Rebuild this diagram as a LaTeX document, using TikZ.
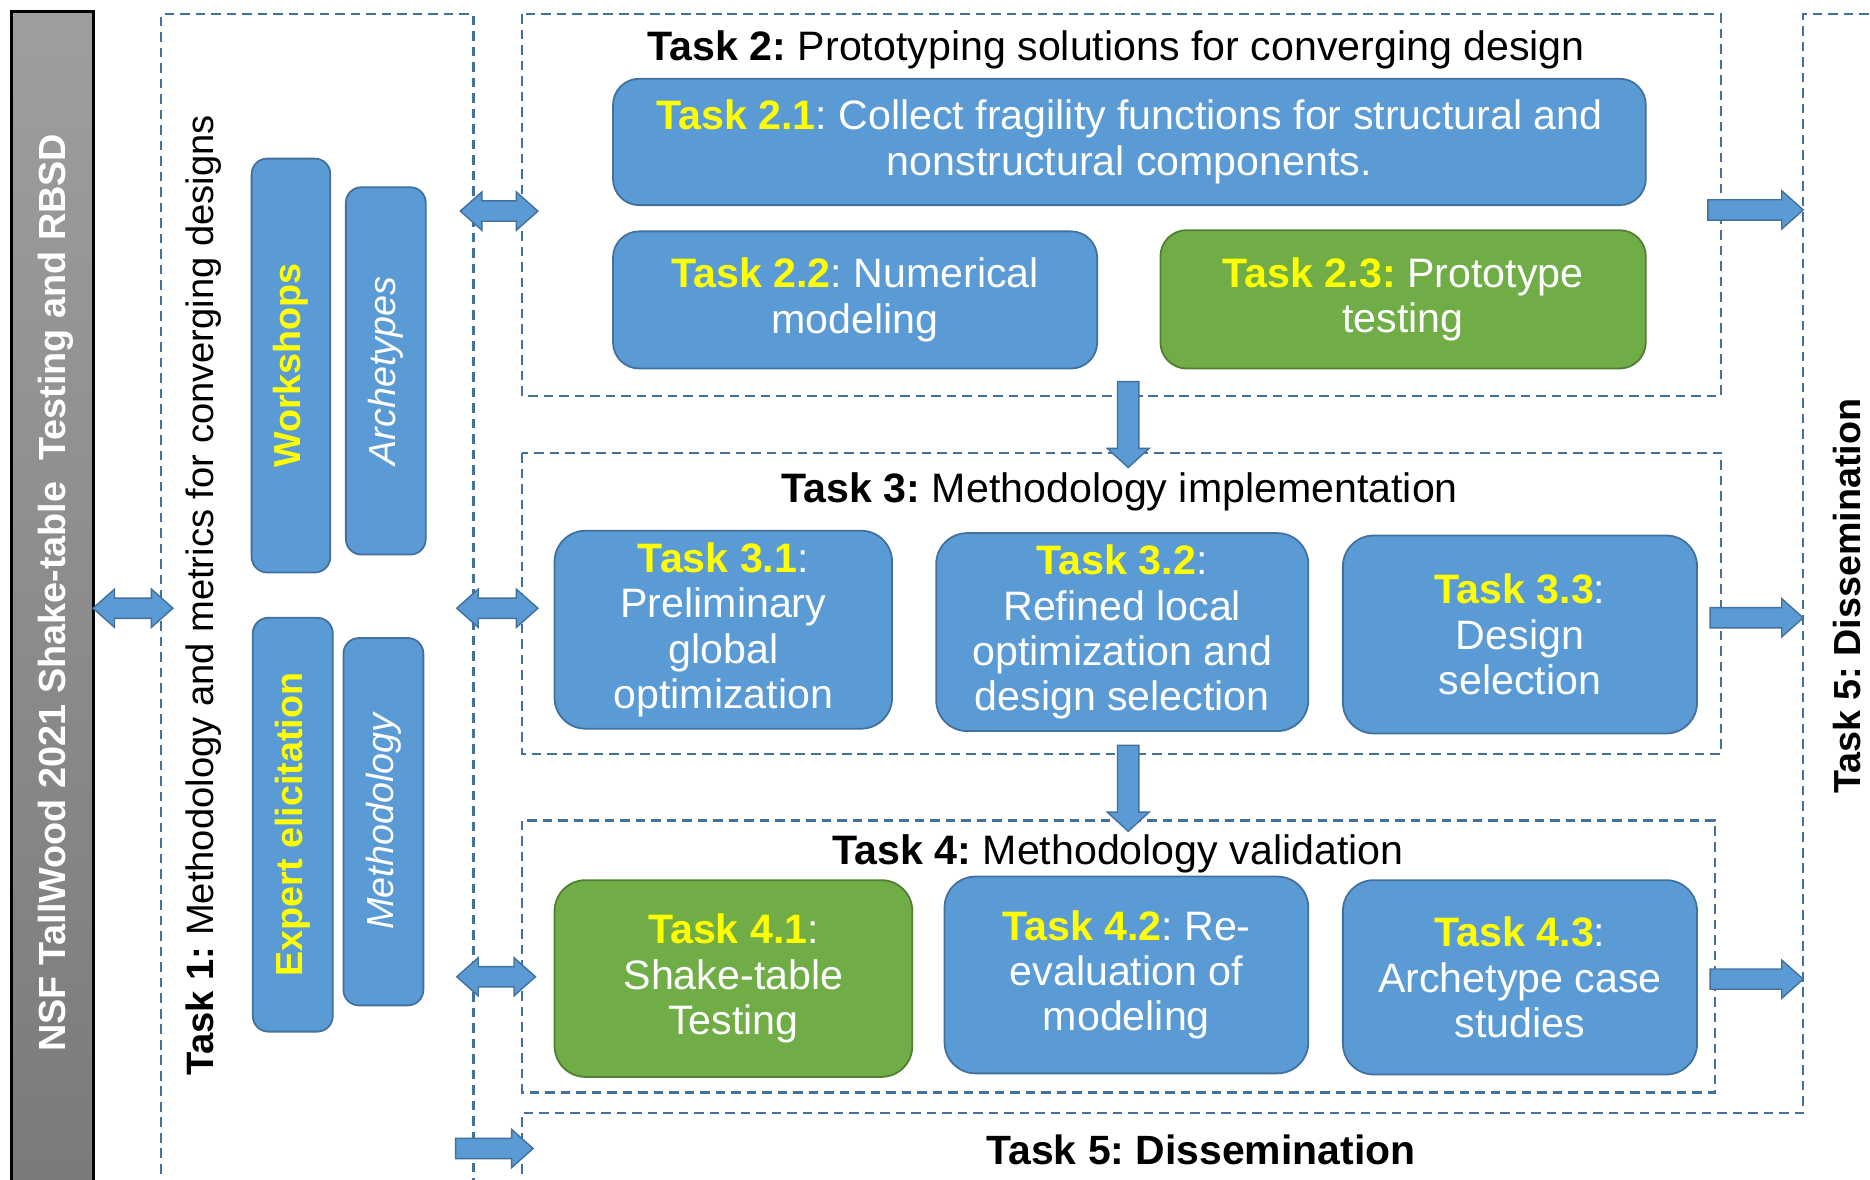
\documentclass[tikz,border=0pt]{standalone}
\usepackage{fontspec}
\setmainfont{Liberation Sans}
\usetikzlibrary{calc}
\frenchspacing
\definecolor{boxblue}{RGB}{91,155,213}
\definecolor{boxblueB}{RGB}{65,113,156}
\definecolor{boxgreen}{RGB}{112,173,71}
\definecolor{boxgreenB}{RGB}{80,126,50}
\definecolor{dashc}{RGB}{65,113,156}
\definecolor{ylw}{RGB}{255,255,0}
\definecolor{graytop}{RGB}{158,158,158}
\definecolor{graybot}{RGB}{122,122,122}
\newcommand\yl[1]{\textcolor{ylw}{\textbf{#1}}}
\newcommand\blkR[2]{\filldraw[barrow] ($(#1)+(0,-8.5)$) -- ($(#2)+(-18,-8.5)$) -- ($(#2)+(-18,-16)$) -- (#2) -- ($(#2)+(-18,16)$) -- ($(#2)+(-18,8.5)$) -- ($(#1)+(0,8.5)$) -- cycle;}
\newcommand\blkLR[2]{\filldraw[barrow] (#1) -- ($(#1)+(18,-16)$) -- ($(#1)+(18,-8.5)$) -- ($(#2)+(-18,-8.5)$) -- ($(#2)+(-18,-16)$) -- (#2) -- ($(#2)+(-18,16)$) -- ($(#2)+(-18,8.5)$) -- ($(#1)+(18,8.5)$) -- ($(#1)+(18,16)$) -- cycle;}
\newcommand\blkD[2]{\filldraw[barrow] ($(#1)+(-9,0)$) -- ($(#2)+(-9,-16)$) -- ($(#2)+(-17.5,-16)$) -- (#2) -- ($(#2)+(17.5,-16)$) -- ($(#2)+(9,-16)$) -- ($(#1)+(9,0)$) -- cycle;}
\tikzset{
  bluebox/.style={draw=boxblueB, fill=boxblue, line width=1.5pt, rounded corners=22pt, text=white, align=center, inner sep=0pt, font=\fontsize{34.5}{38}\selectfont},
  greenbox/.style={bluebox, draw=boxgreenB, fill=boxgreen},
  sidebox/.style={draw=boxblueB, fill=boxblue, line width=1.5pt, rounded corners=13pt, inner sep=0pt, text=white, font=\fontsize{31.6}{36}\selectfont},
  dashbox/.style={draw=dashc, line width=1.8pt, dash pattern=on 8pt off 5pt},
  barrow/.style={fill=boxblue, draw=boxblueB, line width=1.2pt, line join=miter},
  title/.style={font=\fontsize{34.5}{40}\selectfont, inner sep=0pt},
  vtitle/.style={rotate=90, inner sep=0pt, font=\fontsize{32}{36}\selectfont},
}
\begin{document}
\begin{tikzpicture}[x=1pt,y=-1pt]
\useasboundingbox (0,0) rectangle (1568,989);
\clip (0,0) rectangle (1568,989);
\fill[white] (0,0) rectangle (1568,989);

% grey side bar
\draw[line width=2.5pt, top color=graytop, bottom color=graybot] (10,10) rectangle (78,1010);
\node[vtitle, text=white, font=\bfseries\fontsize{31.7}{36}\selectfont] (nsf) at (47,497) {NSF TallWood 2021 Shake-table\ \ Testing and RBSD};

% dashed containers
\draw[dashbox] (135,1010) -- (135,12) -- (397,12) -- (397,1010);
\draw[dashbox] (438,12) rectangle (1443,332);
\draw[dashbox] (438,380) rectangle (1443,632);
\draw[dashbox] (438,688) rectangle (1438,916);
\draw[dashbox] (438,1010) -- (438,933) -- (1512,933) -- (1512,12) -- (1590,12);

% titles
\node[vtitle] (t1title) at (171,499) {\textbf{Task 1:} Methodology and metrics for converging designs};
\node[title] (t2title) at (936,42) {\textbf{Task 2:} Prototyping solutions for converging design};
\node[title] (t3title) at (939,412) {\textbf{Task 3:} Methodology implementation};
\node[title] (t4title) at (937.5,716) {\textbf{Task 4:} Methodology validation};
\node[title, font=\bfseries\fontsize{34.3}{40}\selectfont] (t5title) at (1007,964) {Task 5: Dissemination};
\node[vtitle, font=\bfseries\fontsize{31.6}{36}\selectfont] (t5vtitle) at (1549,500) {Task 5: Dissemination};

% Task 1 side boxes
\node[sidebox, minimum width=66pt, minimum height=347pt] (ws) at (244,306.5) {\rotatebox{90}{\textcolor{ylw}{\bfseries Workshops}}};
\node[sidebox, minimum width=67pt, minimum height=308pt] (arch) at (323.5,311) {\rotatebox{90}{\itshape Archetypes}};
\node[sidebox, minimum width=67pt, minimum height=347pt] (expert) at (245.5,691.5) {\rotatebox{90}{\textcolor{ylw}{\bfseries Expert elicitation}}};
\node[sidebox, minimum width=67pt, minimum height=308pt] (meth) at (321.5,689) {\rotatebox{90}{\itshape Methodology}};

% Task 2 boxes
\node[bluebox, minimum width=866pt, minimum height=106pt] (t21) at (947,119) {\yl{Task 2.1}: Collect fragility functions for structural and\\nonstructural components.};
\node[bluebox, minimum width=406pt, minimum height=115pt] (t22) at (717,251.5) {\yl{Task 2.2}: Numerical\\modeling};
\node[greenbox, minimum width=407pt, minimum height=116pt] (t23) at (1176.5,251) {\yl{Task 2.3:} Prototype\\testing};

% Task 3 boxes
\node[bluebox, rounded corners=26pt, minimum width=283pt, minimum height=166pt] (t31) at (606.5,528) {\yl{Task 3.1}:\\Preliminary\\global\\optimization};
\node[bluebox, rounded corners=26pt, minimum width=312pt, minimum height=166pt] (t32) at (941,530) {\yl{Task 3.2}:\\Refined local\\optimization and\\design selection};
\node[bluebox, rounded corners=26pt, minimum width=297pt, minimum height=166pt] (t33) at (1274.5,532) {\yl{Task 3.3}:\\Design\\selection};

% Task 4 boxes
\node[greenbox, rounded corners=26pt, minimum width=300pt, minimum height=165pt] (t41) at (615,820.5) {\yl{Task 4.1}:\\Shake-table\\Testing};
\node[bluebox, rounded corners=26pt, minimum width=305pt, minimum height=165pt] (t42) at (944.5,817.5) {\yl{Task 4.2}: Re-\\evaluation of\\modeling};
\node[bluebox, rounded corners=26pt, minimum width=297pt, minimum height=163pt] (t43) at (1274.5,819.5) {\yl{Task 4.3}:\\Archetype case\\studies};

% arrow end points
\coordinate (gA) at (78,510);   \coordinate (t1A) at (145,510);
\coordinate (t1B) at (386,177); \coordinate (t2B) at (451,177);
\coordinate (t1C) at (383,510); \coordinate (t3C) at (451,510);
\coordinate (t1D) at (383,819); \coordinate (t4D) at (449,819);
\coordinate (t1E) at (382,963); \coordinate (t5E) at (447,963);
\coordinate (t2F) at (946,320); \coordinate (t3F) at (946,392);
\coordinate (t3G) at (946,625); \coordinate (t4G) at (946,697);
\coordinate (t2H) at (1432,176); \coordinate (t5H) at (1512,176);
\coordinate (t3I) at (1434,518); \coordinate (t5I) at (1512,518);
\coordinate (t4J) at (1434,821); \coordinate (t5J) at (1512,821);

% block arrows
\blkLR{gA}{t1A}
\blkLR{t1B}{t2B}
\blkLR{t1C}{t3C}
\blkLR{t1D}{t4D}
\blkR{t1E}{t5E}
\blkD{t2F}{t3F}
\blkD{t3G}{t4G}
\blkR{t2H}{t5H}
\blkR{t3I}{t5I}
\blkR{t4J}{t5J}
\end{tikzpicture}
\end{document}
